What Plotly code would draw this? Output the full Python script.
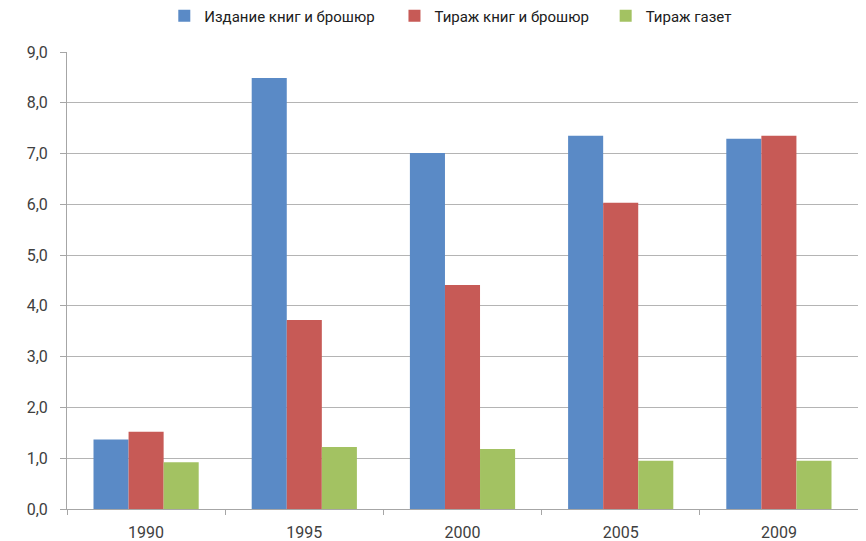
import plotly.graph_objects as go

years = ["1990", "1995", "2000", "2005", "2009"]
series_names = ["Издание книг и брошюр", "Тираж книг и брошюр", "Тираж газет"]
izdanie = [1.37, 8.49, 7.01, 7.35, 7.29]
tirazh_knig = [1.52, 3.72, 4.41, 6.03, 7.35]
tirazh_gazet = [0.92, 1.22, 1.18, 0.95, 0.95]
colors = ["#5A8AC6", "#C75A56", "#A3C262"]
legend_ids = ["legend", "legend2", "legend3"]
legend_x = [0.123, 0.414, 0.681]

fig = go.Figure()
for name, vals, c, lg in zip(series_names, [izdanie, tirazh_knig, tirazh_gazet], colors, legend_ids):
    fig.add_trace(go.Bar(x=years, y=vals, name=name, legend=lg,
                         marker=dict(color=c, line=dict(width=0))))

font = dict(family="Roboto, Liberation Sans, sans-serif", size=16, color="#404040")
leg_common = dict(orientation="h", xanchor="left", yanchor="middle",
                  yref="container", font=dict(size=15, color="#202020"),
                  itemwidth=30, bgcolor="rgba(0,0,0,0)")
layout_legends = {}
for lg, lx in zip(legend_ids, legend_x):
    d = dict(leg_common)
    d["x"] = lx
    d["y"] = 0.985
    layout_legends[lg] = d

fig.update_layout(
    width=858, height=533,
    margin=dict(l=59, r=8, t=44, b=32, autoexpand=False),
    paper_bgcolor="white", plot_bgcolor="white",
    barmode="group", bargap=0.335, bargroupgap=0,
    separators=", ",
    font=font,
    showlegend=True,
    **layout_legends,
)
fig.update_xaxes(
    type="category", showline=True, linecolor="#A6A6A6", linewidth=1,
    ticks="outside", tickson="boundaries", ticklen=5, tickcolor="#A6A6A6",
    showgrid=False, tickfont=font, automargin=False, ticklabelstandoff=9,
)
fig.update_yaxes(
    range=[0, 9], dtick=1, tickformat=".1f", showline=True, linecolor="#A6A6A6", linewidth=1,
    ticks="outside", ticklen=6, tickcolor="#A6A6A6",
    showgrid=True, gridcolor="#B4B4B4", gridwidth=1, zeroline=False, tickfont=font,
    automargin=False, ticklabelstandoff=9,
)
fig.write_html("out.html")
